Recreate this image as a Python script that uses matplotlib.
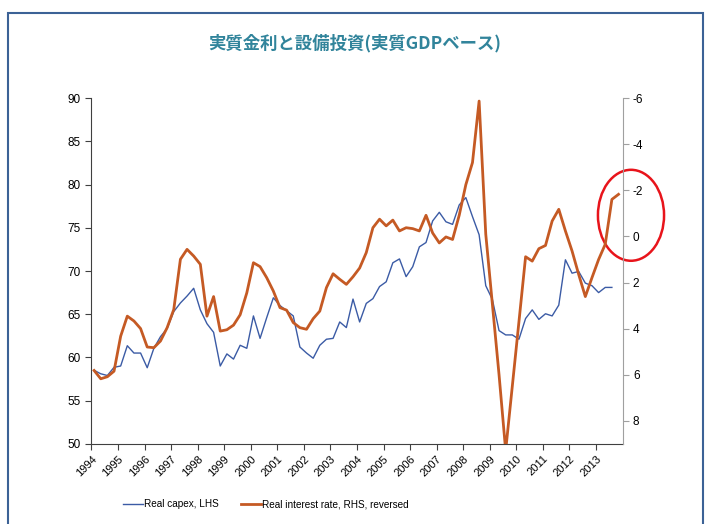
import numpy as np
import matplotlib.pyplot as plt
from matplotlib.patches import Ellipse, Rectangle

plt.rcParams['font.family'] = ['Liberation Sans', 'DejaVu Sans']
plt.rcParams['axes.unicode_minus'] = False

# Quarterly data, 1994Q1 onwards
capex = [58.5, 58.1, 57.9, 58.85, 59.0, 61.35, 60.5, 60.5, 58.8, 61.05,
         62.4, 63.35, 65.3, 66.3, 67.1, 68.0, 65.5, 63.9, 62.9, 59.0,
         60.4, 59.8, 61.4, 61.05, 64.8, 62.2, 64.6, 66.9, 66.0, 65.4,
         64.8, 61.2, 60.5, 59.9, 61.4, 62.1, 62.2, 64.1, 63.45, 66.75,
         64.1, 66.25, 66.8, 68.2, 68.75, 70.95, 71.4, 69.35, 70.5, 72.8,
         73.3, 75.8, 76.8, 75.7, 75.4, 77.65, 78.5, 76.3, 74.2, 68.3,
         66.7, 63.1, 62.6, 62.6, 62.1, 64.5, 65.5, 64.4, 65.05, 64.8,
         66.05, 71.3, 69.75, 69.95, 68.6, 68.3, 67.5, 68.1, 68.1]
real_rate = [5.82, 6.18, 6.09, 5.85, 4.33, 3.46, 3.67, 4.0, 4.8, 4.83,
             4.54, 3.96, 3.17, 0.99, 0.56, 0.85, 1.21, 3.46, 2.61, 4.11,
             4.05, 3.85, 3.4, 2.45, 1.14, 1.31, 1.79, 2.37, 3.09, 3.2,
             3.74, 3.96, 4.03, 3.57, 3.24, 2.22, 1.62, 1.86, 2.08, 1.75,
             1.37, 0.7, -0.38, -0.75, -0.46, -0.71, -0.24, -0.38, -0.34, -0.24,
             -0.92, -0.15, 0.28, 0.02, 0.13, -0.92, -2.25, -3.21, -5.88, -0.1,
             2.95, 6.0, 9.3, 6.5, 3.7, 0.88, 1.07, 0.53, 0.39, -0.67,
             -1.18, -0.24, 0.63, 1.65, 2.61, 1.79, 1.0, 0.34, -1.61, -1.83]
years = list(range(1994, 2014))

x_capex = 1994.1 + np.arange(len(capex)) / 4
x_rate = 1994.1 + np.arange(len(real_rate)) / 4

blue = '#3b5ba5'
orange = '#c55a24'

fig = plt.figure(figsize=(7.09, 5.24), dpi=100)
fig.patches.append(Rectangle((0.011, -0.05), 0.981, 1.025, transform=fig.transFigure,
                             fill=False, edgecolor='#3c6296', linewidth=1.5))

ax = fig.add_axes([0.129, 0.1532, 0.749, 0.6592])
ax2 = ax.twinx()

l1, = ax.plot(x_capex, capex, color=blue, linewidth=1.0, label='Real capex, LHS')
l2, = ax2.plot(x_rate, real_rate, color=orange, linewidth=2.0,
               label='Real interest rate, RHS, reversed')

ax.set_xlim(1994, 2014)
ax.set_ylim(50, 90)
ax.set_yticks(range(50, 91, 5))
ax2.set_ylim(9, -6)
ax2.set_yticks(range(-6, 9, 2))
ax.set_xticks(years)
ax.set_xticklabels([str(y) for y in years], rotation=45, ha='right', va='top',
                   rotation_mode='anchor', fontsize=8)
ax.tick_params(axis='y', labelsize=8.5, length=4, direction='out', color='#404040')
ax.tick_params(axis='x', length=4, direction='out', color='#404040', pad=3)
ax2.tick_params(axis='y', labelsize=8.5, length=4, direction='out', color='#a0a0a0')

for a in (ax, ax2):
    a.spines['top'].set_visible(False)
ax.spines['left'].set_color('#404040')
ax.spines['bottom'].set_color('#404040')
ax.spines['right'].set_visible(False)
ax2.spines['left'].set_visible(False)
ax2.spines['bottom'].set_visible(False)
ax2.spines['right'].set_color('#a0a0a0')

# red highlight circle around the latest reading
ax2.add_patch(Ellipse((2014.32, -0.92), 2.49, 3.95, fill=False, edgecolor='#e8141b',
                      linewidth=1.8, clip_on=False))

fig.text(0.5, 0.918, '実質金利と設備投資(実質GDPベース)', ha='center', va='center',
         fontsize=12.5, fontweight='bold', color='#31849b',
         family=['Noto Sans CJK JP', 'DejaVu Sans'])

fig.legend(handles=[l1, l2], loc='center', bbox_to_anchor=(0.375, 0.038), ncol=2,
           frameon=False, fontsize=7.2, handlelength=2.0, handletextpad=0.1,
           columnspacing=2.2)

fig.savefig('out.png', dpi=100)
